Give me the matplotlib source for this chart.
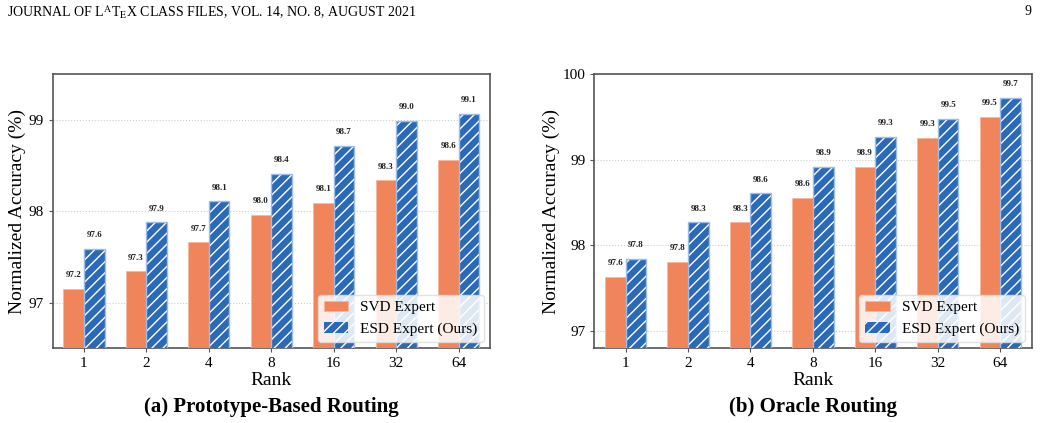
import numpy as np
import matplotlib
matplotlib.use("Agg")
import matplotlib.pyplot as plt

plt.rcParams['font.family'] = ['Liberation Serif', 'DejaVu Serif']
plt.rcParams['mathtext.fontset'] = 'stix'

# -------------------------------
# Dati
# -------------------------------
ranks = ['1', '2', '4', '8', '16', '32', '64']

proto_svd = [97.15, 97.34, 97.66, 97.96, 98.09, 98.34, 98.56]
proto_esd = [97.59, 97.88, 98.11, 98.41, 98.72, 98.99, 99.07]

oracle_svd = [97.63, 97.81, 98.27, 98.56, 98.92, 99.26, 99.50]
oracle_esd = [97.84, 98.27, 98.61, 98.92, 99.27, 99.48, 99.73]

titles = ['(a) Prototype-Based Routing', '(b) Oracle Routing']
ylims = [(96.5, 99.5), (96.8, 100.0)]
yticks = [[97, 98, 99], [97, 98, 99, 100]]

col_svd = '#F0845A'
col_esd = '#2B6AB8'
bar_w = 0.33

fig = plt.figure(figsize=(10.41, 4.23), dpi=100)

fig.text(0.007, 0.972, r'JOURNAL OF L$^{\rm A}$T$_{\rm E}$X CLASS FILES, VOL. 14, NO. 8, AUGUST 2021',
         fontsize=10, ha='left', va='center')
fig.text(0.991, 0.972, '9', fontsize=10, ha='right', va='center')

axes_pos = [[0.0506, 0.177, 0.420, 0.647],
            [0.5709, 0.177, 0.420, 0.647]]
dati = [(proto_svd, proto_esd), (oracle_svd, oracle_esd)]

for i, (svd, esd) in enumerate(dati):
    ax = fig.add_axes(axes_pos[i])
    x = np.arange(len(ranks))
    ax.bar(x - bar_w / 2, svd, bar_w, color=col_svd, edgecolor='#F6B79C',
           linewidth=0.6, label='SVD Expert', zorder=3)
    ax.bar(x + bar_w / 2, esd, bar_w, color=col_esd, edgecolor='white',
           hatch='///', linewidth=0, label='ESD Expert (Ours)', zorder=3)
    # bordo azzurro
    ax.bar(x + bar_w / 2, esd, bar_w, fill=False, edgecolor='#9DBDE6',
           linewidth=1.0, zorder=4)

    for xi, v in zip(x - bar_w / 2, svd):
        ax.annotate(f'{v:.1f}', (xi, v), xytext=(0, 7), textcoords='offset points',
                    ha='center', va='bottom', fontsize=6.5, fontweight='bold', color='#222222')
    for xi, v in zip(x + bar_w / 2, esd):
        ax.annotate(f'{v:.1f}', (xi, v), xytext=(0, 7), textcoords='offset points',
                    ha='center', va='bottom', fontsize=6.5, fontweight='bold', color='#222222')

    ax.set_xlim(-0.5, len(ranks) - 0.5)
    ax.set_ylim(*ylims[i])
    ax.set_yticks(yticks[i])
    ax.set_xticks(x)
    ax.set_xticklabels(ranks)
    ax.tick_params(labelsize=11, length=3, width=0.8, color='#555555')
    ax.set_xlabel('Rank', fontsize=14, labelpad=1)
    ax.set_ylabel('Normalized Accuracy (%)', fontsize=14, labelpad=2)
    ax.grid(axis='y', linestyle=':', color='#cccccc', linewidth=0.8, zorder=0)
    ax.set_axisbelow(True)
    for sp in ax.spines.values():
        sp.set_color('#555555')
        sp.set_linewidth(1.2)

    ax.legend(loc='lower right', fontsize=11, handlelength=1.6,
              framealpha=0.85, edgecolor='#dddddd', fancybox=True,
              borderaxespad=0.4)

    pos = ax.get_position()
    fig.text((pos.x0 + pos.x1) / 2, 0.038, titles[i], fontsize=15,
             fontweight='bold', ha='center', va='center')

fig.savefig('out.png', dpi=100)
